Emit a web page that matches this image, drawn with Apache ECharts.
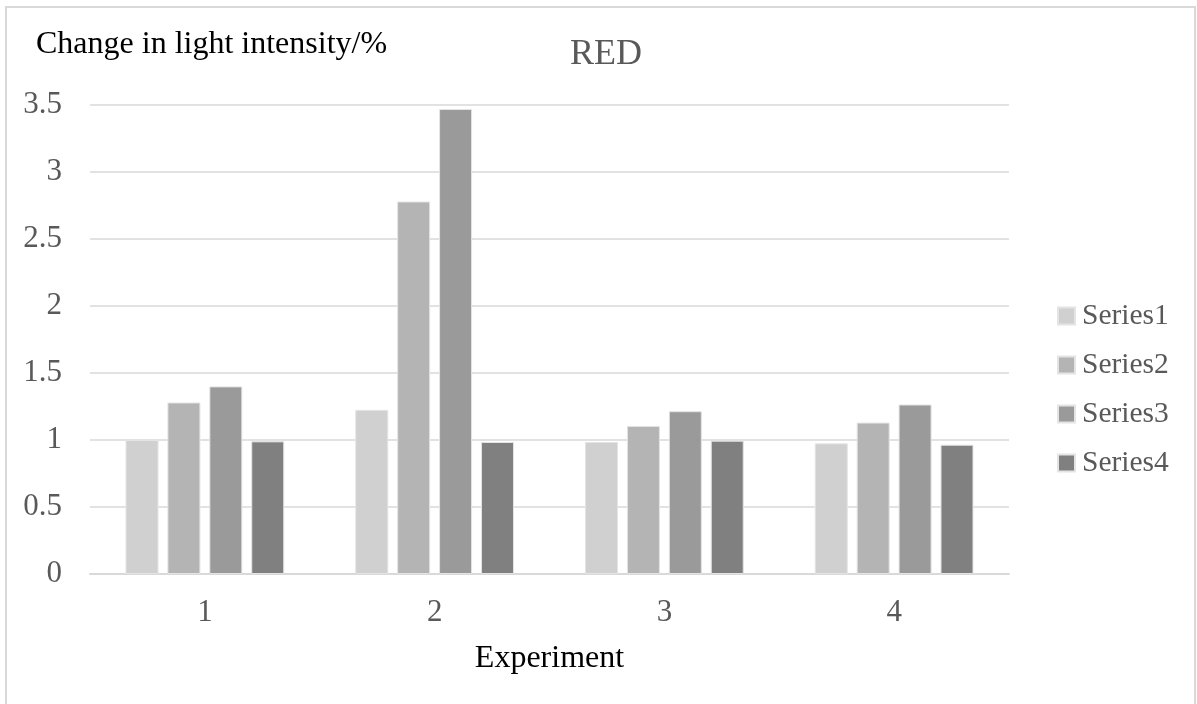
<!DOCTYPE html>
<html>
<head>
<meta charset="utf-8">
<script src="https://cdn.jsdelivr.net/npm/echarts@6/dist/echarts.min.js"></script>
<style>
  html, body { margin: 0; padding: 0; background: #fff; }
  #chart { width: 1197px; height: 704px; }
</style>
</head>
<body>
<div id="chart"></div>
<script>
// 数据
var categories = ['1', '2', '3', '4'];
var seriesNames = ['Series1', 'Series2', 'Series3', 'Series4'];
var series1 = [1.0, 1.225, 0.985, 0.975];
var series2 = [1.28, 2.78, 1.105, 1.13];
var series3 = [1.40, 3.47, 1.215, 1.265];
var series4 = [0.99, 0.985, 0.995, 0.965];
var colors = ['#d0d0d0', '#b4b4b4', '#9a9a9a', '#808080'];

var font = '"Liberation Serif", "DejaVu Serif", serif';

function makeBar(name, data, color) {
	return {
		name: name,
		type: 'bar',
		data: data,
		barWidth: 33,
		barGap: '27%',
		itemStyle: {
			color: color,
			borderColor: '#e4e4e4',
			borderWidth: 1
		}
	};
}

var myChart = echarts.init(document.getElementById('chart'));
myChart.setOption({
	animation: false,
	title: {
		text: 'RED',
		left: 601,
		top: 32,
		textAlign: 'center',
		textStyle: { fontFamily: font, fontSize: 36, fontWeight: 'normal', color: '#595959' }
	},
	graphic: [{
		type: 'rect',
		shape: { x: 6, y: 7, width: 1189, height: 720 },
		style: { fill: 'none', stroke: '#d9d9d9', lineWidth: 2 },
		silent: true
	}, {
		type: 'text',
		left: 36,
		top: 29,
		style: { text: 'Change in light intensity/%', font: '32px ' + font, fill: '#000' }
	}],
	legend: {
		orient: 'vertical',
		left: 1052,
		top: 296,
		itemGap: 19,
		itemWidth: 17,
		itemHeight: 17,
		icon: 'rect',
		data: seriesNames,
		textStyle: { fontFamily: font, fontSize: 29.5, color: '#595959', padding: [0, 0, 0, 2] }
	},
	grid: {
		left: 90,
		right: 188,
		top: 105,
		bottom: 130,
		containLabel: false
	},
	xAxis: {
		type: 'category',
		data: categories,
		name: 'Experiment',
		nameLocation: 'middle',
		nameGap: 69,
		nameTextStyle: { fontFamily: font, fontSize: 32, color: '#000' },
		axisLine: { lineStyle: { color: '#d9d9d9', width: 2 } },
		axisTick: { show: false },
		axisLabel: { fontFamily: font, fontSize: 31, color: '#595959', margin: 23 }
	},
	yAxis: {
		type: 'value',
		min: 0,
		max: 3.5,
		interval: 0.5,
		axisLine: { show: false },
		axisTick: { show: false },
		splitLine: { lineStyle: { color: '#d9d9d9', width: 1.5 } },
		axisLabel: { fontFamily: font, fontSize: 31, color: '#595959', margin: 28 }
	},
	series: [
		makeBar(seriesNames[0], series1, colors[0]),
		makeBar(seriesNames[1], series2, colors[1]),
		makeBar(seriesNames[2], series3, colors[2]),
		makeBar(seriesNames[3], series4, colors[3])
	]
});
</script>
</body>
</html>
